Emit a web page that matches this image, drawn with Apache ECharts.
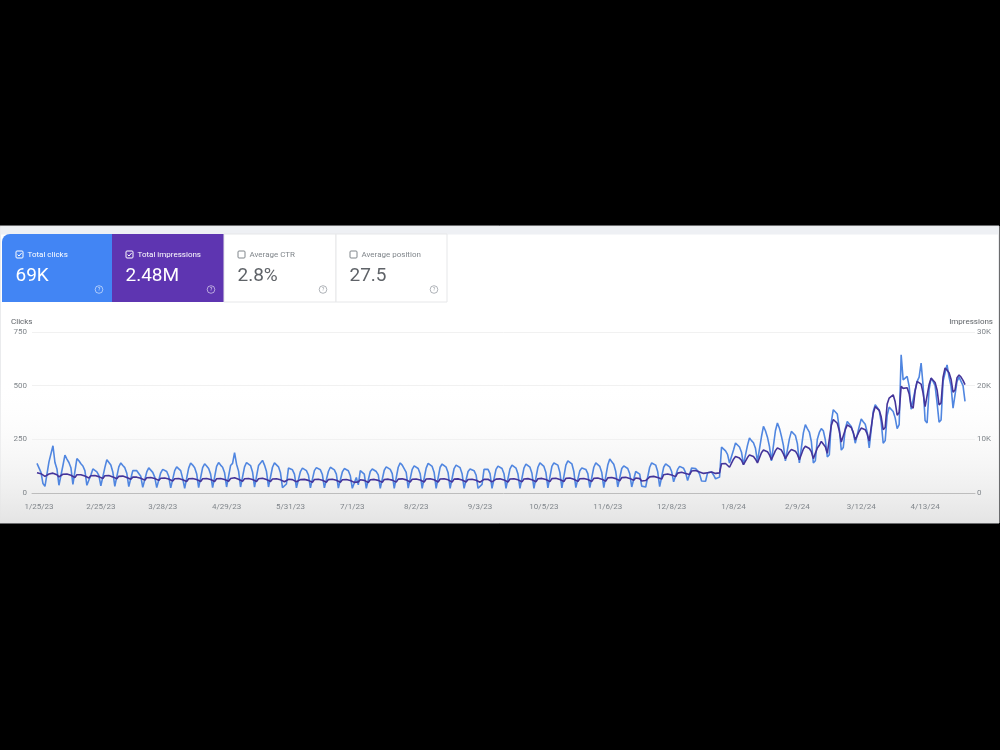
<!DOCTYPE html>
<html>
<head>
<meta charset="utf-8">
<script src="https://cdn.jsdelivr.net/npm/echarts@6/dist/echarts.min.js"></script>
<style>
  html, body { margin: 0; background: #000; }
  #main { width: 1000px; height: 750px; }
</style>
</head>
<body>
<div id="main"></div>
<script>
// first day of data, and the dates shown under the axis
var startDate = '2023-01-24'
var labelDates = ['2023-01-25', '2023-02-25', '2023-03-28', '2023-04-29', '2023-05-31', '2023-07-01', '2023-08-02',
  '2023-09-03', '2023-10-05', '2023-11-06', '2023-12-08', '2024-01-08', '2024-02-09', '2024-03-12', '2024-04-13']

// daily clicks, one row per week (Mon..Sun)
var clicks = [
  138, 142, 96, 44, 31, 36,
  145, 152, 220, 142, 112, 36, 31,
  128, 176, 158, 142, 118, 40, 33,
  160, 150, 136, 126, 104, 36, 30,
  84, 112, 106, 98, 82, 33, 28,
  118, 155, 146, 130, 98, 31, 27,
  122, 140, 128, 118, 92, 30, 26,
  104, 110, 104, 98, 78, 26, 22,
  98, 117, 108, 96, 74, 25, 21,
  94, 110, 106, 100, 78, 24, 20,
  104, 122, 116, 104, 68, 22, 18,
  116, 140, 130, 118, 90, 25, 21,
  118, 136, 126, 114, 88, 25, 22,
  124, 142, 130, 120, 94, 28, 24,
  128, 138, 188, 134, 102, 28, 24,
  122, 142, 136, 128, 98, 27, 24,
  128, 140, 152, 130, 100, 28, 24,
  120, 140, 134, 122, 94, 25, 22,
  42, 116, 114, 108, 88, 24, 21,
  100, 116, 112, 104, 84, 24, 21,
  104, 118, 114, 108, 86, 24, 21,
  100, 120, 116, 108, 88, 23, 21,
  98, 114, 110, 104, 80, 22, 20,
  72, 38, 104, 108, 88, 22, 19,
  100, 112, 110, 100, 84, 22, 20,
  106, 122, 118, 110, 90, 22, 20,
  120, 140, 130, 122, 96, 23, 20,
  110, 126, 120, 114, 90, 22, 20,
  116, 138, 130, 124, 96, 22, 20,
  120, 135, 128, 120, 94, 22, 20,
  114, 130, 126, 118, 90, 22, 20,
  100, 112, 110, 104, 84, 22, 20,
  40, 110, 116, 110, 90, 22, 20,
  110, 125, 120, 114, 90, 22, 20,
  112, 130, 124, 116, 88, 22, 20,
  116, 135, 128, 120, 92, 22, 20,
  120, 140, 134, 124, 95, 24, 22,
  124, 140, 138, 130, 96, 24, 22,
  130, 150, 147, 136, 100, 25, 22,
  104, 117, 114, 110, 90, 25, 22,
  120, 140, 135, 124, 95, 25, 22,
  130, 158, 146, 134, 100, 28, 25,
  114, 126, 120, 114, 90, 28, 25,
  100, 106, 88, 32, 40, 28, 26,
  120, 140, 138, 130, 100, 30, 28,
  120, 136, 130, 122, 100, 52, 48,
  110, 124, 120, 115, 95, 58, 60,
  116, 124, 114, 104, 88, 56, 54,
  55, 94, 100, 98, 84, 66, 68,
  74, 214, 206, 196, 180, 140, 134,
  200, 233, 225, 214, 190, 132, 140,
  222, 256, 244, 234, 208, 147, 150,
  262, 310, 290, 260, 217, 150, 156,
  290, 326, 302, 265, 222, 150, 154,
  252, 287, 280, 268, 230, 140, 146,
  280, 318, 300, 284, 240, 140, 150,
  250, 282, 300, 290, 248, 168, 178,
  330, 388, 384, 368, 300, 200, 212,
  300, 333, 326, 310, 280, 232, 238,
  310, 345, 332, 320, 282, 210, 218,
  380, 411, 402, 386, 330, 232, 244,
  362, 400, 392, 380, 350, 300, 318,
  644, 527, 520, 543, 498, 390, 384,
  480, 520, 540, 605, 500, 338, 326,
  482, 535, 520, 500, 420, 330, 340,
  520, 560, 597, 540, 498, 395, 402,
  520, 540, 532, 500, 427
]

// daily impressions, same weeks
var impressions = [
  3780, 3840, 3600, 3300, 3100, 3150,
  3550, 3650, 3700, 3600, 3400, 3000, 3000,
  3500, 3600, 3550, 3450, 3300, 2950, 2900,
  3400, 3450, 3400, 3300, 3150, 2850, 2800,
  3200, 3300, 3250, 3200, 3050, 2750, 2700,
  3200, 3300, 3250, 3150, 3000, 2700, 2650,
  3100, 3200, 3150, 3050, 2900, 2600, 2550,
  2950, 3000, 2950, 2900, 2750, 2450, 2400,
  2850, 2950, 2900, 2850, 2700, 2400, 2350,
  2750, 2850, 2800, 2750, 2600, 2300, 2250,
  2650, 2750, 2700, 2650, 2450, 2200, 2150,
  2650, 2750, 2700, 2650, 2500, 2200, 2150,
  2650, 2700, 2700, 2650, 2500, 2200, 2150,
  2650, 2750, 2700, 2650, 2500, 2200, 2200,
  2700, 2750, 2850, 2700, 2550, 2250, 2200,
  2650, 2700, 2700, 2650, 2500, 2200, 2150,
  2650, 2700, 2750, 2650, 2500, 2200, 2150,
  2600, 2650, 2650, 2600, 2450, 2150, 2100,
  2200, 2550, 2550, 2500, 2400, 2100, 2050,
  2500, 2560, 2540, 2500, 2350, 2060, 2000,
  2520, 2580, 2560, 2520, 2380, 2080, 2020,
  2500, 2570, 2550, 2500, 2380, 2050, 2000,
  2480, 2540, 2520, 2480, 2320, 2020, 1980,
  2300, 2080, 2460, 2500, 2360, 2000, 1960,
  2480, 2540, 2530, 2480, 2350, 2020, 1990,
  2520, 2600, 2580, 2540, 2400, 2060, 2020,
  2580, 2660, 2640, 2600, 2450, 2100, 2060,
  2560, 2630, 2610, 2580, 2420, 2080, 2040,
  2600, 2680, 2660, 2620, 2460, 2100, 2060,
  2600, 2670, 2650, 2610, 2450, 2100, 2060,
  2580, 2650, 2630, 2590, 2430, 2080, 2050,
  2520, 2580, 2560, 2530, 2380, 2060, 2020,
  2150, 2540, 2580, 2560, 2420, 2080, 2040,
  2580, 2660, 2640, 2600, 2440, 2100, 2060,
  2600, 2680, 2660, 2620, 2450, 2120, 2080,
  2620, 2700, 2680, 2640, 2470, 2140, 2100,
  2660, 2740, 2720, 2680, 2500, 2160, 2120,
  2680, 2760, 2740, 2700, 2520, 2180, 2140,
  2720, 2820, 2800, 2760, 2560, 2200, 2160,
  2650, 2720, 2700, 2680, 2520, 2200, 2160,
  2720, 2820, 2800, 2760, 2580, 2240, 2200,
  2820, 2950, 2900, 2860, 2680, 2320, 2280,
  2860, 2940, 2920, 2880, 2720, 2400, 2360,
  2800, 2820, 2680, 2250, 2380, 2320, 2300,
  3000, 3150, 3100, 3060, 2900, 2620, 2600,
  3400, 3580, 3550, 3500, 3350, 3100, 3050,
  3700, 3900, 3860, 3800, 3650, 3420, 3450,
  4100, 4300, 4200, 4100, 3920, 3700, 3650,
  3600, 3780, 3850, 3900, 3800, 3650, 3700,
  3750, 5460, 5600, 5500, 5300, 4800, 4900,
  6300, 6800, 6700, 6500, 6100, 5300, 5400,
  6600, 7100, 7000, 6800, 6300, 5600, 5700,
  7500, 8000, 7900, 7700, 7100, 6200, 6300,
  7900, 8400, 8200, 8000, 7300, 6400, 6600,
  7700, 8100, 8000, 7800, 7200, 6200, 6300,
  8200, 8700, 8600, 8300, 7700, 6400, 6600,
  8400, 8900, 9600, 9300, 8600, 7400, 7700,
  12600, 13700, 13500, 13000, 11600, 9500, 9700,
  11800, 12700, 12500, 12200, 11300, 9900, 10100,
  11500, 12100, 12000, 11800, 11000, 9700, 9900,
  14800, 16100, 15800, 15400, 14200, 11800, 12200,
  16600, 17700, 17500, 18300, 17000, 14500, 15000,
  19900, 19500, 19300, 19600, 18500, 16200, 15800,
  19000, 20800, 20500, 20300, 18600, 16100, 15900,
  20200, 21400, 21000, 20600, 19200, 16400, 16800,
  21600, 23300, 22900, 22400, 21200, 18800, 19200,
  21500, 22000, 21600, 21000, 20200
]

var cards = [
  { name: 'Total clicks', value: '69K', checked: true, color: '#4285f4' },
  { name: 'Total impressions', value: '2.48M', checked: true, color: '#5e35b1' },
  { name: 'Average CTR', value: '2.8%', checked: false, color: '#fff' },
  { name: 'Average position', value: '27.5', checked: false, color: '#fff' }
]

var FONT = 'Roboto, "Noto Sans", sans-serif'
var DAY = 86400000
var ORIGIN = Date.UTC(2023, 0, 25)

function dayIndex(s) {
  var p = s.split('-')
  return (Date.UTC(+p[0], p[1] - 1, +p[2]) - ORIGIN) / DAY
}
function fmtDay(v) {
  var d = new Date(ORIGIN + Math.round(v) * DAY)
  return (d.getUTCMonth() + 1) + '/' + d.getUTCDate() + '/' + String(d.getUTCFullYear()).slice(2)
}

var first = dayIndex(startDate)
var clickData = clicks.map(function(v, i) { return [first + i, v] })
var impData = impressions.map(function(v, i) { return [first + i, v] })

// page furniture: panel, metric cards, axis titles
var graphics = [
  { type: 'rect', z: -20, shape: { x: 0, y: 226, width: 999, height: 297 }, style: { fill: '#fff', stroke: '#d6d8dc', lineWidth: 1 } },
  { type: 'rect', z: -19, shape: { x: 0.5, y: 226.5, width: 998, height: 8 }, style: { fill: '#eef0f4' } },
  {
    type: 'rect', z: -18, shape: { x: 0, y: 380, width: 999, height: 143 },
    style: {
      fill: new echarts.graphic.LinearGradient(0, 0, 0, 1, [
        { offset: 0, color: 'rgba(255,255,255,0)' },
        { offset: 1, color: '#e4e4e4' }
      ])
    }
  },
  { type: 'text', z: 10, style: { x: 11, y: 322, text: 'Clicks', fill: '#5f6368', font: '8px ' + FONT, verticalAlign: 'middle' } },
  { type: 'text', z: 10, style: { x: 993, y: 322, text: 'Impressions', fill: '#5f6368', font: '8px ' + FONT, align: 'right', verticalAlign: 'middle' } }
]

var cardX = [2, 112, 224, 336]
var cardW = [110, 112, 112, 111]
cards.forEach(function(c, i) {
  var x = cardX[i]
  var fg = c.checked ? '#fff' : '#80868b'
  var num = c.checked ? '#fff' : '#5f6368'
  graphics.push({
    type: 'rect', z: -15,
    shape: { x: x, y: 234, width: cardW[i], height: 68, r: i === 0 ? [8, 0, 0, 0] : 0 },
    style: { fill: c.color, stroke: c.checked ? null : '#e6e7e9', lineWidth: 1 }
  })
  var bx = x + 14
  graphics.push({ type: 'rect', z: 10, shape: { x: bx, y: 251, width: 7, height: 7, r: 1 }, style: { fill: 'none', stroke: fg, lineWidth: 1 } })
  if (c.checked) {
    graphics.push({ type: 'polyline', z: 10, shape: { points: [[bx + 1.6, 254.6], [bx + 3, 256], [bx + 5.6, 253]] }, style: { stroke: '#fff', lineWidth: 1, fill: 'none' } })
  }
  graphics.push({ type: 'text', z: 10, style: { x: bx + 11.5, y: 254.5, text: c.name, fill: c.checked ? '#fff' : '#80868b', font: '8px ' + FONT, verticalAlign: 'middle' } })
  graphics.push({ type: 'text', z: 10, style: { x: bx - 0.5, y: 276, text: c.value, fill: num, font: '19px ' + FONT, verticalAlign: 'middle' } })
  var qx = x + cardW[i] - 13
  graphics.push({ type: 'circle', z: 10, shape: { cx: qx, cy: 289.5, r: 3.8 }, style: { fill: 'none', stroke: c.checked ? 'rgba(255,255,255,0.7)' : '#9aa0a6', lineWidth: 0.8 } })
  graphics.push({ type: 'text', z: 10, style: { x: qx, y: 289.7, text: '?', fill: c.checked ? 'rgba(255,255,255,0.8)' : '#9aa0a6', font: '5.5px ' + FONT, align: 'center', verticalAlign: 'middle' } })
})

var myChart = echarts.init(document.getElementById('main'))
var option = {
  backgroundColor: '#000',
  animation: false,
  graphic: graphics,
  grid: { left: 32, right: 25, top: 332, bottom: 257, containLabel: false },
  xAxis: {
    type: 'value',
    min: -3.5,
    max: 469,
    axisLine: { show: true, lineStyle: { color: '#bdbdbd', width: 1 } },
    axisTick: { show: false },
    splitLine: { show: false },
    axisLabel: {
      customValues: labelDates.map(dayIndex),
      formatter: fmtDay,
      color: '#80868b',
      fontSize: 8,
      fontFamily: FONT,
      margin: 10
    }
  },
  yAxis: [
    {
      type: 'value',
      min: 0,
      max: 750,
      interval: 250,
      axisLine: { show: false },
      axisTick: { show: false },
      splitLine: { show: true, lineStyle: { color: '#f1f1f1' } },
      axisLabel: { color: '#80868b', fontSize: 8, fontFamily: FONT, margin: 5 }
    },
    {
      type: 'value',
      min: 0,
      max: 30000,
      interval: 10000,
      axisLine: { show: false },
      axisTick: { show: false },
      splitLine: { show: false },
      axisLabel: {
        color: '#80868b', fontSize: 8, fontFamily: FONT, margin: 2,
        formatter: function(v) { return v === 0 ? '0' : v / 1000 + 'K' }
      }
    }
  ],
  series: [
    {
      name: 'Clicks',
      type: 'line',
      yAxisIndex: 0,
      showSymbol: false,
      data: clickData,
      lineStyle: { color: '#5086e0', width: 1.6 },
      itemStyle: { color: '#5086e0' },
      z: 3
    },
    {
      name: 'Impressions',
      type: 'line',
      yAxisIndex: 1,
      showSymbol: false,
      data: impData,
      lineStyle: { color: '#44349a', width: 1.6 },
      itemStyle: { color: '#44349a' },
      z: 4
    }
  ]
}
myChart.setOption(option)
</script>
</body>
</html>
